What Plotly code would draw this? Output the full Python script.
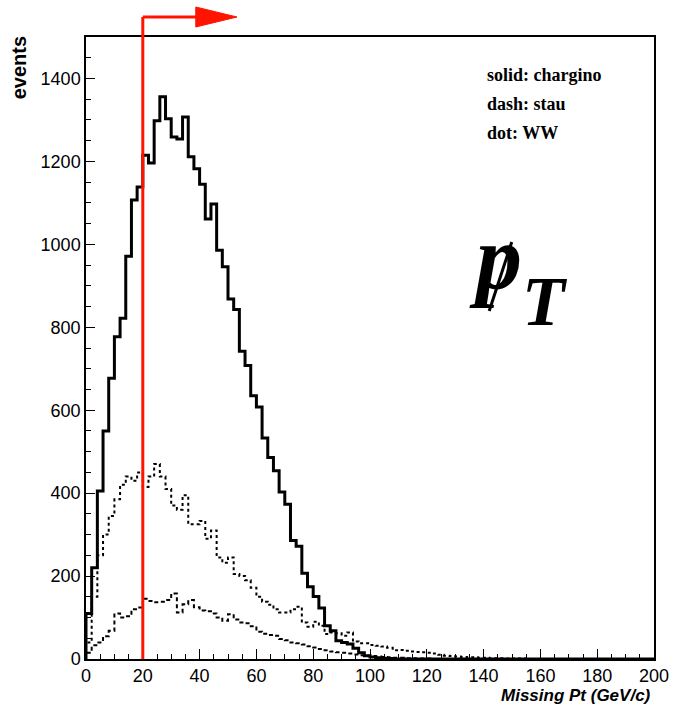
import plotly.graph_objects as go
import numpy as np

# ---------------- data ----------------
BIN_WIDTH = 2.0           # GeV per bin
X_RANGE = [0, 200]
Y_RANGE = [0, 1500]
X_TICKS = list(range(0, 201, 20))
Y_TICKS = list(range(0, 1401, 200))
CUT = 20                  # missing-Pt cut marked by the red arrow (GeV/c)

chargino = [110, 220, 405, 550, 677, 777, 822, 971, 1107, 1138,
            1215, 1196, 1298, 1356, 1303, 1259, 1254, 1307, 1211, 1182,
            1145, 1061, 1097, 986, 946, 868, 843, 742, 708, 635,
            608, 533, 486, 454, 403, 373, 286, 272, 207, 174,
            151, 123, 80, 68, 44, 40, 36, 26, 15, 8,
            5, 3, 2, 1]

stau = [15, 33, 40, 55, 68, 110, 100, 103, 120, 124,
        145, 140, 137, 138, 142, 158, 112, 132, 142, 125,
        117, 115, 110, 100, 92, 108, 95, 88, 86, 79,
        66, 61, 58, 56, 48, 45, 40, 38, 35, 31,
        28, 24, 21, 18, 16, 15, 13, 11, 9, 8,
        7, 6, 5, 4, 3, 3, 2, 2, 1, 1, 1]

ww = [40, 150, 250, 300, 345, 385, 420, 440, 430, 450,
      415, 440, 470, 440, 410, 370, 360, 395, 325, 325,
      333, 290, 310, 245, 232, 245, 205, 200, 190, 172,
      150, 138, 131, 120, 112, 112, 120, 126, 88, 78,
      90, 80, 60, 64, 62, 56, 64, 42, 38, 38,
      34, 32, 30, 27, 21, 22, 20, 18, 17, 16,
      15, 13, 10, 8, 7, 6, 5, 4, 4, 3,
      3, 2, 2, 2, 1, 1, 1, 1]

LEGEND_LINES = ["solid: chargino", "dash: stau", "dot: WW"]
X_TITLE = "Missing Pt (GeV/c)"
Y_TITLE = "events"

# ---------------- layout geometry ----------------
W, H = 681, 713
ML, MR, MT, MB = 86, 16, 37, 54
PW, PH = W - ML - MR, H - MT - MB


def px_x(px):
    return (px - ML) / PW


def px_y(py):
    return (H - MB - py) / PH


NBINS = int((X_RANGE[1] - X_RANGE[0]) / BIN_WIDTH)
edges = X_RANGE[0] + BIN_WIDTH * np.arange(NBINS + 1)


def step_xy(vals):
    v = list(vals) + [0] * (NBINS - len(vals))
    x = [edges[0]] + list(edges)
    y = [0] + v + [v[-1]]
    return x, y


fig = go.Figure()
for vals, dash, width in [(ww, "dot", 2), (stau, "4px,3px", 2), (chargino, "solid", 3)]:
    x, y = step_xy(vals)
    fig.add_trace(go.Scatter(x=x, y=y, mode="lines", line_shape="hv",
                             line=dict(color="black", width=width, dash=dash),
                             showlegend=False, hoverinfo="skip"))

# red cut line + arrow
RED = "rgb(255,20,0)"
arrow_y = px_y(17)
head_half = 10 / PH
x_per_px = (X_RANGE[1] - X_RANGE[0]) / PW
shaft_end = CUT + 56 * x_per_px
tip = CUT + 96 * x_per_px
fig.add_shape(type="line", xref="x", yref="paper", x0=CUT, x1=CUT, y0=0, y1=arrow_y,
              line=dict(color=RED, width=3))
fig.add_shape(type="line", xref="x", yref="paper", x0=CUT, x1=shaft_end, y0=arrow_y, y1=arrow_y,
              line=dict(color=RED, width=3))
fig.add_shape(type="path", xref="x", yref="paper",
              path=f"M {shaft_end - x_per_px * 2} {arrow_y - head_half} L {tip} {arrow_y} "
                   f"L {shaft_end - x_per_px * 2} {arrow_y + head_half} Z",
              fillcolor=RED, line=dict(color=RED, width=1))

# legend text
for i, t in enumerate(LEGEND_LINES):
    fig.add_annotation(text=f"<b>{t}</b>", xref="paper", yref="paper",
                       x=px_x(493), y=px_y(75 + 29 * i), xanchor="left", yanchor="middle",
                       showarrow=False,
                       font=dict(family="Liberation Serif", size=18, color="black"))

# missing pT symbol: slashed p with subscript T
fig.add_annotation(text="<b><i>p</i></b>", xref="paper", yref="paper",
                   x=px_x(531), y=px_y(258), xanchor="right", yanchor="middle",
                   borderpad=0, showarrow=False,
                   font=dict(family="Liberation Serif", size=92, color="black"))
fig.add_annotation(text="<b><i>T</i></b>", xref="paper", yref="paper",
                   x=px_x(529), y=px_y(301), xanchor="left", yanchor="middle",
                   borderpad=0, showarrow=False,
                   font=dict(family="Liberation Serif", size=70, color="black"))
fig.add_shape(type="line", xref="paper", yref="paper",
              x0=px_x(520), y0=px_y(242), x1=px_x(497), y1=px_y(311),
              line=dict(color="black", width=3))

# axis titles
fig.add_annotation(text=f"<b>{Y_TITLE}</b>", xref="paper", yref="paper",
                   x=px_x(18), y=px_y(68), xanchor="center", yanchor="middle",
                   textangle=-90, showarrow=False,
                   font=dict(family="Liberation Sans", size=20, color="black"))
fig.add_annotation(text=f"<b><i>{X_TITLE}</i></b>", xref="paper", yref="paper",
                   x=px_x(664), y=px_y(695), xanchor="right", yanchor="middle",
                   showarrow=False,
                   font=dict(family="Liberation Sans", size=17, color="black"))

axis_common = dict(showgrid=False, zeroline=False, showline=True, linecolor="black",
                   linewidth=1.5, mirror=True, ticks="inside", tickcolor="black",
                   tickfont=dict(family="Liberation Sans", size=18, color="black"))
fig.update_xaxes(range=X_RANGE, tickvals=X_TICKS, ticklen=10, tickwidth=1.2,
                 minor=dict(dtick=5, ticks="inside", ticklen=5, tickcolor="black"),
                 **axis_common)
fig.update_yaxes(range=Y_RANGE, tickvals=Y_TICKS, ticklen=9, tickwidth=1.2,
                 minor=dict(dtick=50, ticks="inside", ticklen=5, tickcolor="black"),
                 **axis_common)

fig.update_layout(width=W, height=H, margin=dict(l=ML, r=MR, t=MT, b=MB),
                  paper_bgcolor="white", plot_bgcolor="white")

fig.write_html("out.html")
